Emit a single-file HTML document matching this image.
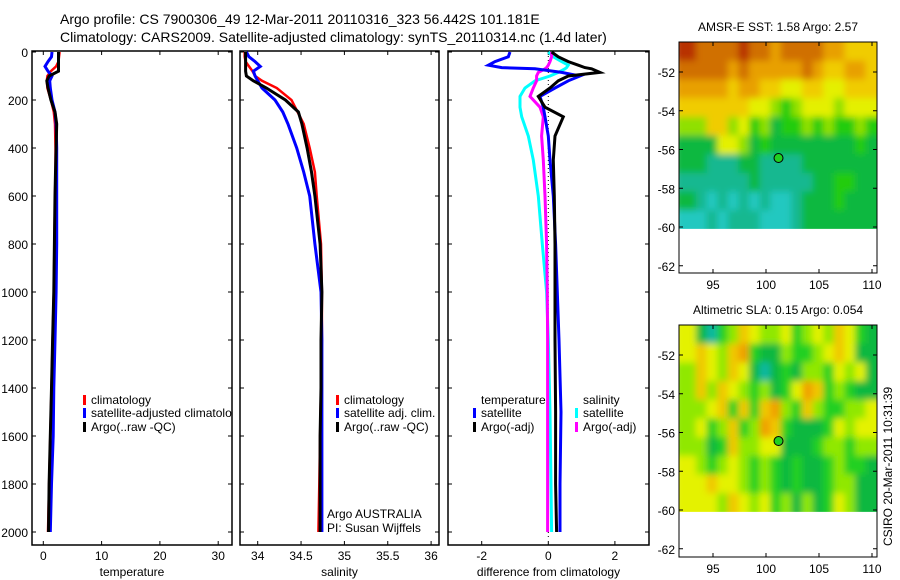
<!DOCTYPE html>
<html><head><meta charset="utf-8"><style>
body{margin:0;background:#fff;}
svg{display:block;font-family:"Liberation Sans",sans-serif;}
</style></head><body>
<svg id="fig" width="900" height="580" viewBox="0 0 900 580" xmlns="http://www.w3.org/2000/svg">
<defs><filter id="blur" x="-5%" y="-5%" width="110%" height="110%"><feGaussianBlur stdDeviation="3.5"/></filter></defs>
<text x="60" y="24" font-size="14">Argo profile: CS 7900306_49 12-Mar-2011 20110316_323 56.442S 101.181E</text>
<text x="60" y="42" font-size="14">Climatology: CARS2009. Satellite-adjusted climatology: synTS_20110314.nc (1.4d later)</text>
<g id="g"></g>
</svg>
<script>
// ---- data ----
const depths=[0,20,40,60,80,100,120,150,200,250,300,400,500,600,800,1000,1200,1400,1600,1800,2000];
const tClim=[2.8,2.7,2.6,2.2,1.3,0.7,0.6,0.7,1.3,1.8,2.0,2.1,2.1,2.0,1.9,1.8,1.6,1.4,1.2,1.0,0.8];
const tSat=[1.5,1.4,0.8,0.3,0.8,1.5,1.1,1.2,1.5,2.0,2.2,2.3,2.3,2.3,2.3,2.2,2.0,1.8,1.7,1.4,1.2];
const tArgo=[2.6,2.6,2.6,2.6,2.6,1.0,0.6,0.8,1.3,2.0,2.3,2.2,2.1,2.0,1.9,1.8,1.6,1.4,1.2,1.0,0.9];
const sClim=[33.85,33.85,33.86,33.9,33.94,33.97,34.05,34.22,34.39,34.46,34.53,34.6,34.66,34.68,34.73,34.74,34.74,34.73,34.72,34.71,34.70];
const sSat=[33.87,33.9,33.97,34.03,33.95,33.97,34.0,34.05,34.2,34.29,34.35,34.45,34.53,34.6,34.66,34.73,34.74,34.74,34.74,34.74,34.74];
const sArgo=[33.86,33.86,33.86,33.86,33.86,33.87,33.95,34.1,34.32,34.47,34.51,34.57,34.62,34.66,34.72,34.74,34.73,34.73,34.72,34.72,34.72];
const diffDepths=[0,20,40,55,65,70,85,100,120,150,185,230,270,350,450,600,800,1000,1200,1500,1800,2000];
const dTSat=[-1.15,-1.2,-1.6,-1.8,-1.4,-0.4,0.4,0.95,0.6,0.2,-0.25,-0.15,-0.1,0,0.05,0.15,0.22,0.27,0.32,0.38,0.35,0.35];
const dTArgo=[0.1,0.3,0.6,0.9,1.1,1.3,1.55,0.6,0.3,0.05,-0.3,-0.1,0.45,0.2,0.15,0.18,0.2,0.2,0.2,0.22,0.22,0.25];
const dSSat=[0,0.15,0.4,0.6,0.55,0.5,0.3,0.05,-0.4,-0.7,-0.85,-0.85,-0.8,-0.6,-0.45,-0.3,-0.18,-0.05,0,0.05,0.08,0.1];
const dSArgo=[0.1,0.1,0.05,0,-0.05,-0.1,-0.3,-0.35,-0.35,-0.45,-0.55,-0.25,-0.15,-0.2,-0.15,-0.1,-0.05,-0.03,-0.02,-0.02,-0.02,-0.02];
const depthTicks=[0,200,400,600,800,1000,1200,1400,1600,1800,2000];
const tempTicks=[0,10,20,30];
const salTicks=[34,34.5,35,35.5,36];
const diffTicks=[-2,0,2];
const lonTicks=[95,100,105,110];
const latTicks=[-52,-54,-56,-58,-60,-62];
const argoLon=101.18, argoLat=-56.44;
const sstGrid=[
[9,8,8,8,8,9,8,8,7,8,8,8,8,7,7,6,6,6],
[8,8,8,8,7,8,7,7,7,7,7,8,7,6,6,7,7,6],
[7,7,7,7,6,7,7,6,6,5,5,6,6,5,5,6,6,6],
[6,6,6,6,6,6,5,5,4,3,4,5,5,5,4,5,5,5],
[4,4,6,6,4,5,3,4,2,3,3,4,3,4,3,3,4,3],
[2,2,2,5,5,4,2,3,2,2,2,2,2,2,2,2,3,2],
[2,2,1,1,1,2,2,1,1,1,1,2,2,2,2,2,2,2],
[1,1,1,1,1,1,2,1,1,1,1,1,2,2,3,3,2,2],
[2,1,0,1,0,1,0,1,0,0,1,2,2,2,3,2,2,2],
[0,0,1,0,1,1,1,0,0,0,1,2,2,2,2,2,2,2]];
const slaGrid=[
[4,1,0,2,3,5,4,3,3,4,2,3,4,3,5,4,2,1],
[4,5,4,3,5,6,2,1,1,3,2,2,3,4,5,4,1,1],
[3,5,4,3,5,4,1,0,1,2,1,3,3,2,4,3,4,1],
[3,5,3,5,4,3,2,3,1,2,4,6,5,2,3,2,1,1],
[3,3,4,5,2,5,2,5,6,3,2,5,3,2,2,3,3,4],
[3,4,2,3,5,2,3,6,5,2,1,1,1,2,4,3,4,4],
[3,3,1,2,5,3,3,4,4,1,1,1,2,3,3,2,3,3],
[4,3,2,3,4,3,2,3,2,1,2,1,1,2,3,2,2,1],
[4,4,5,4,4,3,2,3,2,1,2,1,1,2,3,3,1,1],
[4,4,4,3,5,4,3,4,2,3,1,3,1,2,4,3,1,1]];
const sstColors=["#22c8c0","#12b890","#10b840","#20cc10","#90e000","#e4f000","#f0cc00","#e8a000","#d07000","#b83000"];
const slaColors=["#10b8a0","#10b840","#20d020","#90e800","#e4f200","#f0c800","#f0a000"];

const NS="http://www.w3.org/2000/svg";
const G=document.getElementById('g');
function el(tag,attrs,parent){const e=document.createElementNS(NS,tag);for(const k in attrs)e.setAttribute(k,attrs[k]);(parent||G).appendChild(e);return e;}
function txt(x,y,s,size,anchor,parent){const t=el('text',{x:x,y:y,'font-size':size,'text-anchor':anchor||'start'},parent);t.textContent=s;return t;}

const Y0=52,Y1=532,TOP=51,BOT=545;
const yD=d=>Y0+(d/2000)*(Y1-Y0);
function panel(name,left,right,xf,ticks,fmt,title,showDepthLabels){
  const g=el('g',{});
  
  
  el('rect',{x:left,y:TOP,width:right-left,height:BOT-TOP,fill:'none',stroke:'#000','stroke-width':1.5},g);
  ticks.forEach(v=>{const x=xf(v);
    el('line',{x1:x,x2:x,y1:TOP,y2:TOP+4,stroke:'#000'},g);
    el('line',{x1:x,x2:x,y1:BOT,y2:BOT-4,stroke:'#000'},g);
    const t=txt(x,560,fmt(v),12,'middle',g);
    
    
  });
  depthTicks.forEach(d=>{const y=yD(d);
    el('line',{x1:left,x2:left+4,y1:y,y2:y,stroke:'#000'},g);
    el('line',{x1:right,x2:right-4,y1:y,y2:y,stroke:'#000'},g);
    if(showDepthLabels){const t=txt(left-4,y+5,String(d),12,'end',g);
      
      }
  });
  const at=txt((left+right)/2,576,title,12,'middle',g);
  
  
  return g;
}
function line(g,xf,ds,vals,color,w,name,dash){
  const pts=ds.map((d,i)=>xf(vals[i]).toFixed(1)+','+yD(d).toFixed(1)).join(' ');
  const p=el('polyline',{points:pts,fill:'none',stroke:color,'stroke-width':w,'stroke-linejoin':'miter'},g);
  if(dash)p.setAttribute('stroke-dasharray',dash);
  
  
}
function legend(g,x,y,color,label,name){
  if(color)el('rect',{x:x,y:y-9,width:3,height:10,fill:color},g);
  const t=txt(x+8,y,label,12,'start',g);
  
  
}

// Panel 1 temperature
const xT=v=>43.3+v*5.83;
let cp=el('clipPath',{id:'c1'});el('rect',{x:32,y:TOP,width:200,height:BOT-TOP},cp);
const p1=panel('temperature-panel',32,232,xT,tempTicks,v=>String(v),'temperature',true);
const l1=el('g',{'clip-path':'url(#c1)'},p1);
line(l1,xT,depths,tClim,'#f00',2.5,'temperature-climatology-line');
line(l1,xT,depths,tSat,'#00f',3,'temperature-satellite-line');
line(l1,xT,depths,tArgo,'#000',3,'temperature-argo-line');
legend(l1,83,404,'#f00','climatology','legend-climatology');
legend(l1,83,417,'#00f','satellite-adjusted climatology','legend-satellite-adjusted');
legend(l1,83,431,'#000','Argo(..raw -QC)','legend-argo');

// Panel 2 salinity
const xS=v=>257.7+(v-34)*86.7;
const p2=panel('salinity-panel',240,439,xS,salTicks,v=>String(v),'salinity',false);
line(p2,xS,depths,sClim,'#f00',2.5,'salinity-climatology-line');
line(p2,xS,depths,sSat,'#00f',3,'salinity-satellite-line');
line(p2,xS,depths,sArgo,'#000',3,'salinity-argo-line');
legend(p2,336,404,'#f00','climatology','legend-climatology');
legend(p2,336,417,'#00f','satellite adj. clim.','legend-satellite-adj');
legend(p2,336,431,'#000','Argo(..raw -QC)','legend-argo');
legend(p2,319,518,null,'Argo AUSTRALIA','credit-argo-australia');
legend(p2,319,532,null,'PI: Susan Wijffels','credit-pi');

// Panel 3 difference
const xDf=v=>548.3+v*33.3;
const p3=panel('difference-panel',448,649,xDf,diffTicks,v=>String(v),'difference from climatology',false);
el('line',{x1:xDf(0),x2:xDf(0),y1:Y0,y2:Y1+5,stroke:'#000','stroke-dasharray':'1,3','stroke-width':1},p3);
line(p3,xDf,diffDepths,dSSat,'#0ff',3,'salinity-satellite-diff-line');
line(p3,xDf,diffDepths,dSArgo,'#f0f',3,'salinity-argo-diff-line');
line(p3,xDf,diffDepths,dTSat,'#00f',3,'temperature-satellite-diff-line');
line(p3,xDf,diffDepths,dTArgo,'#000',3,'temperature-argo-diff-line');
legend(p3,473,404,null,'temperature','legend-temperature-heading');
legend(p3,473,417,'#00f','satellite','legend-temp-satellite');
legend(p3,473,431,'#000','Argo(-adj)','legend-temp-argo');
legend(p3,575,404,null,'salinity','legend-salinity-heading');
legend(p3,575,417,'#0ff','satellite','legend-sal-satellite');
legend(p3,575,431,'#f0f','Argo(-adj)','legend-sal-argo');

// Maps
let mapCount=0;
function map(name,top,bottom,grid,colors,title){
  mapCount++;
  const g=el('g',{});
  
  
  const L=679,R=877;
  const xL=lon=>713+(lon-95)*10.6;
  const yL=lat=>top+30+(-52-lat)*19.375;
  const lon0=92.4,lon1=110.4,lat0=-50.45,lat1=-60.1;
  const nr=grid.length,nc=grid[0].length;
  const cid='mc'+mapCount;
  const cpm=el('clipPath',{id:cid});
  el('rect',{x:L,y:top,width:R-L,height:(yL(lat1)-top).toFixed(1)},cpm);
  const outer=el('g',{'clip-path':'url(#'+cid+')'},g);
  const cells=el('g',{filter:'url(#blur)'},outer);
  for(let r=-1;r<=nr;r++)for(let c=-1;c<=nc;c++){
    const rr=Math.min(nr-1,Math.max(0,r)),cc=Math.min(nc-1,Math.max(0,c));
    const a=lon0+(lon1-lon0)*c/nc,b=lon0+(lon1-lon0)*(c+1)/nc;
    const la=lat0+(lat1-lat0)*r/nr,lb=lat0+(lat1-lat0)*(r+1)/nr;
    const x=xL(a),y=yL(la);
    const cell=el('rect',{x:x.toFixed(1),y:y.toFixed(1),width:(xL(b)-x+0.6).toFixed(1),height:(yL(lb)-y+0.6).toFixed(1),fill:colors[grid[rr][cc]]},cells);
    
    
  }
  el('rect',{x:L,y:top,width:R-L,height:bottom-top,fill:'none',stroke:'#000','stroke-width':1},g);
  lonTicks.forEach(v=>{const x=xL(v);
    el('line',{x1:x,x2:x,y1:top,y2:top+4,stroke:'#000'},g);
    el('line',{x1:x,x2:x,y1:bottom,y2:bottom-4,stroke:'#000'},g);
    const t=txt(x,bottom+16,String(v),12,'middle',g);
    
    });
  latTicks.forEach(v=>{const y=yL(v);
    el('line',{x1:L,x2:L+4,y1:y,y2:y,stroke:'#000'},g);
    el('line',{x1:R,x2:R-4,y1:y,y2:y,stroke:'#000'},g);
    const t=txt(L-4,y+5,String(v),12,'end',g);
    
    });
  const m=el('circle',{cx:xL(argoLon),cy:yL(argoLat),r:4.5,fill:'#20d020',stroke:'#000','stroke-width':1},g);
  
  
  const t=txt(778,top-11,title,12,'middle',g);
  
  
}
map('sst-map',42,273,sstGrid,sstColors,'AMSR-E SST: 1.58 Argo: 2.57');
map('sla-map',325,557,slaGrid,slaColors,'Altimetric SLA: 0.15 Argo: 0.054');
const vt=txt(0,0,'CSIRO 20-Mar-2011 10:31:39',12,'start');
vt.setAttribute('transform','translate(892,546) rotate(-90)');


</script>
</body></html>
